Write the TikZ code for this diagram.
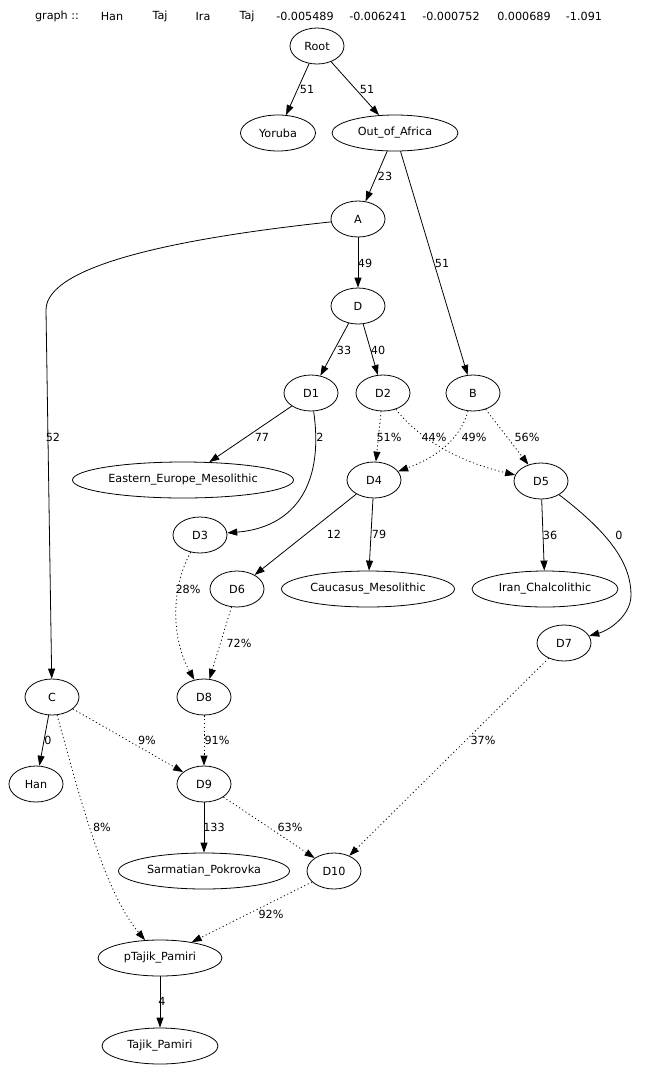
\documentclass[tikz,border=0pt]{standalone}
\usepackage{fontspec}
\setmainfont{DejaVu Sans}
\usetikzlibrary{shapes.geometric,arrows.meta}
\begin{document}
\begin{tikzpicture}[x=1pt,y=-1pt,
  nd/.style={draw, ellipse, line width=0.8pt, minimum width=54pt, minimum height=36pt, inner sep=0pt, font=\fontsize{11.2}{13}\selectfont},
  lbl/.style={inner sep=0pt, font=\fontsize{11.2}{13}\selectfont},
  edge/.style={line width=0.8pt, -{Triangle[length=10pt,width=7pt]}},
  dotedge/.style={edge, dash pattern=on 1.1pt off 2.7pt}]
\useasboundingbox (0,0) rectangle (645,1072);
% header
\node[lbl] (h0) at (57,16) {graph ::};
\node[lbl] (h1) at (112,16) {Han};
\node[lbl] (h2) at (160,16) {Taj};
\node[lbl] (h3) at (203,16) {Ira};
\node[lbl] (h4) at (247,16) {Taj};
\node[lbl] (h5) at (305,16) {-0.005489};
\node[lbl] (h6) at (378,16) {-0.006241};
\node[lbl] (h7) at (451,16) {-0.000752};
\node[lbl] (h8) at (524,16) {0.000689};
\node[lbl] (h9) at (584,16) {-1.091};
% nodes
\node[nd] (Root) at (317,46) {Root};
\node[nd, minimum width=75pt] (Yoruba) at (278,133) {Yoruba};
\node[nd, minimum width=126pt] (OoA) at (395,133) {Out\_of\_Africa};
\node[nd] (A) at (358,219) {A};
\node[nd] (D) at (358,306) {D};
\node[nd] (D1) at (311,393) {D1};
\node[nd] (D2) at (383,393) {D2};
\node[nd] (B) at (473,393) {B};
\node[nd, minimum width=221pt] (EEM) at (183,480) {Eastern\_Europe\_Mesolithic};
\node[nd] (D4) at (374,480) {D4};
\node[nd] (D5) at (541,481) {D5};
\node[nd] (D3) at (200,535) {D3};
\node[nd] (D6) at (237,589) {D6};
\node[nd, minimum width=173pt] (CM) at (368,589) {Caucasus\_Mesolithic};
\node[nd, minimum width=146pt] (IC) at (545,589) {Iran\_Chalcolithic};
\node[nd] (D7) at (564,643) {D7};
\node[nd] (C) at (52,697) {C};
\node[nd] (D8) at (204,697) {D8};
\node[nd] (Han) at (36,784) {Han};
\node[nd] (D9) at (204,784) {D9};
\node[nd, minimum width=171pt] (SP) at (204,871) {Sarmatian\_Pokrovka};
\node[nd] (D10) at (334,871) {D10};
\node[nd, minimum width=124pt] (pTP) at (160,958) {pTajik\_Pamiri};
\node[nd, minimum width=116pt] (TP) at (160,1046) {Tajik\_Pamiri};
% edges
\draw[edge] (Root) -- (Yoruba);
\draw[edge] (Root) -- (OoA);
\draw[edge] (OoA) -- (A);
\draw[edge] (OoA) -- (B);
\draw[edge] (A) -- (D);
\draw[edge] (A) .. controls (180,238) and (46,265) .. (46,310) -- (C);
\draw[edge] (D) -- (D1);
\draw[edge] (D) -- (D2);
\draw[edge] (D1) -- (EEM);
\draw[edge] (D1) .. controls (325,490) and (290,528) .. (D3);
\draw[dotedge] (D2) -- (D4);
\draw[dotedge] (D2) .. controls (420,440) and (460,462) .. (D5);
\draw[dotedge] (B) .. controls (460,440) and (435,458) .. (D4);
\draw[dotedge] (B) -- (D5);
\draw[edge] (D4) -- (D6);
\draw[edge] (D4) -- (CM);
\draw[edge] (D5) -- (IC);
\draw[edge] (D5) .. controls (612,535) and (631,565) .. (631,595) .. controls (631,615) and (610,630) .. (D7);
\draw[dotedge] (D3) .. controls (170,590) and (172,640) .. (D8);
\draw[dotedge] (D6) -- (D8);
\draw[edge] (C) -- (Han);
\draw[dotedge] (C) -- (D9);
\draw[dotedge] (C) .. controls (78,790) and (103,890) .. (pTP);
\draw[dotedge] (D8) -- (D9);
\draw[dotedge] (D7) -- (D10);
\draw[edge] (D9) -- (SP);
\draw[dotedge] (D9) -- (D10);
\draw[dotedge] (D10) -- (pTP);
\draw[edge] (pTP) -- (TP);
% edge labels
\node[lbl] (l1) at (307,89) {51};
\node[lbl] (l2) at (367,89) {51};
\node[lbl] (l3) at (385,176) {23};
\node[lbl] (l4) at (442,263) {51};
\node[lbl] (l5) at (365,263) {49};
\node[lbl] (l6) at (53,437) {52};
\node[lbl] (l7) at (344,350) {33};
\node[lbl] (l8) at (378,350) {40};
\node[lbl] (l9) at (262,437) {77};
\node[lbl] (l10) at (320,437) {2};
\node[lbl] (l11) at (389,437) {51\%};
\node[lbl] (l12) at (434,437) {44\%};
\node[lbl] (l13) at (474,437) {49\%};
\node[lbl] (l14) at (527,437) {56\%};
\node[lbl] (l15) at (334,534) {12};
\node[lbl] (l16) at (379,534) {79};
\node[lbl] (l17) at (550,535) {36};
\node[lbl] (l18) at (619,535) {0};
\node[lbl] (l19) at (188,589) {28\%};
\node[lbl] (l20) at (239,643) {72\%};
\node[lbl] (l21) at (48,740) {0};
\node[lbl] (l22) at (147,740) {9\%};
\node[lbl] (l23) at (217,740) {91\%};
\node[lbl] (l24) at (483,740) {37\%};
\node[lbl] (l25) at (102,827) {8\%};
\node[lbl] (l26) at (214,827) {133};
\node[lbl] (l27) at (290,827) {63\%};
\node[lbl] (l28) at (271,914) {92\%};
\node[lbl] (l29) at (162,1001) {4};
\end{tikzpicture}
\end{document}
